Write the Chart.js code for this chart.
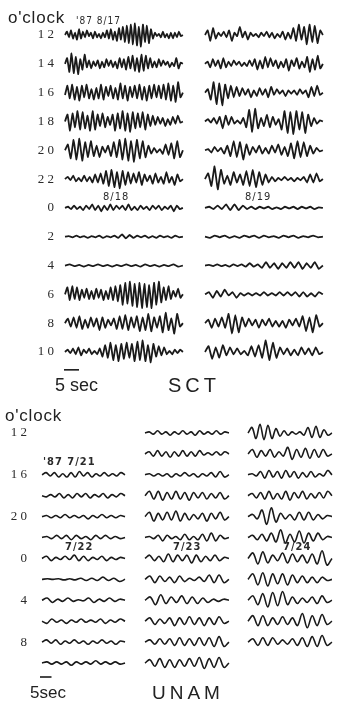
<!DOCTYPE html>
<html>
<head>
<meta charset="utf-8">
<script src="https://cdn.jsdelivr.net/npm/chart.js@4.4.0/dist/chart.umd.min.js"></script>
<style>
body { margin: 0; background: #fff; width: 340px; height: 706px; position: relative; overflow: hidden; font-family: "Liberation Sans", Arial, sans-serif; color: #222; }
canvas { position: absolute; left: 0; }
#sct { top: 0; }
#unam { top: 400px; }
.t { position: absolute; white-space: nowrap; line-height: 1; }
.big { font-size: 17px; letter-spacing: 0.8px; }
.date { font-family: "DejaVu Sans Condensed", "Liberation Sans Narrow", sans-serif; font-size: 11px; letter-spacing: 1px; color: #2a2a2a; }
.name { font-size: 19px; letter-spacing: 4px; }
</style>
</head>
<body>
<canvas id="sct" width="340" height="400"></canvas>
<canvas id="unam" width="340" height="306"></canvas>

<div class="t big" style="left:8px;top:9px">o'clock</div>
<div class="t date" style="left:76px;top:16px;font-size:10px">'87 8/17</div>
<div class="t date" style="left:103px;top:191px">8/18</div>
<div class="t date" style="left:245px;top:191px">8/19</div>
<div class="t" style="left:55px;top:376px;font-size:18px">5 sec</div>
<div class="t name" style="left:168px;top:375px;font-size:20px">SCT</div>

<div class="t big" style="left:5px;top:407px">o'clock</div>
<div class="t date" style="left:43px;top:456px;font-weight:bold">'87 7/21</div>
<div class="t date" style="left:65px;top:541px;font-weight:bold">7/22</div>
<div class="t date" style="left:173px;top:541px;font-weight:bold">7/23</div>
<div class="t date" style="left:283px;top:541px;font-weight:bold">7/24</div>
<div class="t" style="left:30px;top:684px;font-size:17px">5sec</div>
<div class="t name" style="left:152px;top:683px">UNAM</div>

<script>
// hour labels of the rows
const sctHours = ['1 2', '1 4', '1 6', '1 8', '2 0', '2 2', '0', '2', '4', '6', '8', '1 0'];
const unamHours = ['1 2', '', '1 6', '', '2 0', '', '0', '', '4', '', '8', ''];

// SCT, left column: 8/17 12h .. 8/18 10h (trace amplitude, up = +)
const sctDay1 = [
    [0,3,-2,4,-3,2,-4,5,-3,3,-2,4,-1,2,-3,3,-2,1,-3,2,-2,4,-3,5,-4,3,-5,6,-4,7,-6,8,-7,9,-8,10,-9,7,-10,9,-6,8,-7,5,-3,2,-1,1,-2,3,-2,1,-3,2,-3,2,-2,3,-1,0],
    [0,5,-7,9,-8,6,-9,4,-5,8,-3,3,-4,2,-2,3,-4,2,-3,4,-2,3,-3,2,-4,5,-3,4,-5,6,-4,7,-6,5,-7,8,-6,7,-4,5,-3,2,-3,4,-2,3,-1,2,-3,1,-2,5,-4,1,0],
    [-2,6,-5,7,-6,5,-7,6,-4,7,-5,3,-6,4,-5,7,-6,5,-3,6,-5,4,-6,8,-5,6,-7,5,-4,6,-5,7,-6,5,-7,6,-5,7,-4,6,-5,7,-6,8,-7,6,-8,9,-4,0],
    [0,6,-8,7,-5,9,-7,8,-6,5,-8,9,-7,6,-4,7,-5,4,-3,6,-8,7,-6,9,-8,7,-9,8,-6,7,-5,8,-7,6,-4,5,-3,4,-2,3,-4,2,-3,4,-2,5,-1,0],
    [0,5,-7,9,-8,10,-9,7,-6,8,-5,4,-6,3,-2,4,-5,7,-6,9,-8,10,-9,8,-10,9,-7,8,-6,4,-3,2,-2,1,-3,5,-4,6,-7,8,-6,0],
    [0,2,-1,3,-2,1,-2,3,-2,2,-3,4,-3,5,-4,7,-6,8,-7,6,-8,7,-5,6,-4,5,-3,6,-5,4,-2,3,-4,5,-3,2,-4,6,-3,2,-5,4,-2,0],
    [0,1,-1,2,-1,1,-2,2,-1,3,-2,2,-3,2,-2,3,-2,2,-1,2,-2,3,-2,1,-2,2,-1,1,-2,2,-1,2,-2,1,-1,2,-3,2,-1,0],
    [0,0.5,-0.5,1,-0.5,0.5,-1,0.5,-0.5,1,-1,0.5,-0.5,1,-1,2,-1.5,1.5,-1,1,-0.5,1,-1,0.5,-1,1,-0.5,0.5,-1,1,-0.5,0],
    [0,1,-0.5,0.5,-1,0.5,-0.5,1,-0.5,0.5,-1,0.5,-0.5,1,-0.5,0.5,-1,1,-0.5,0.5,-1,0.5,-0.5,1,-1,0],
    [0,6,-5,7,-4,6,-5,4,-3,5,-4,3,-4,5,-3,4,-5,3,-4,6,-5,7,-6,8,-9,10,-8,11,-10,9,-11,10,-12,9,-11,8,-12,10,-9,11,-7,6,-5,7,-4,3,-2,5,-3,0],
    [0,4,-3,5,-4,6,-5,3,-4,5,-3,4,-6,5,-4,3,-2,4,-5,6,-5,7,-6,5,-4,6,-7,5,-6,8,-7,5,-4,6,-8,9,-6,4,-9,8,-3,0],
    [0,2,-1,3,-2,4,-3,2,-1,3,-2,1,-2,3,-4,6,-5,8,-7,6,-8,7,-6,8,-5,7,-8,9,-7,10,-8,6,-9,7,-4,5,-3,4,-2,1,-2,2,-1,2,0]
];

// SCT, right column: 8/18 12h .. 8/19 10h
const sctDay2 = [
    [0,4,-5,6,-3,2,-1,3,-2,4,-5,2,-1,7,-2,3,-4,2,-1,1,-2,2,-1,3,-2,2,-3,1,-2,3,-4,2,-3,6,-5,9,-4,7,-8,9,-6,8,-7,4,0],
    [0,2,-3,4,-2,3,-4,5,-3,2,-2,3,-1,2,-2,1,-2,3,-2,4,-5,3,-4,6,-3,5,-2,3,-4,2,-3,4,-6,3,-2,5,-4,2,-3,6,-7,4,-5,7,-4,0],
    [0,3,-6,9,-10,8,-11,7,-5,6,-4,5,-3,4,-2,3,-4,2,-3,4,-2,3,-4,5,-2,3,-1,2,-3,2,-1,2,-2,3,-1,2,-4,5,-3,6,-2,0],
    [0,2,-1,3,-2,4,-6,5,-3,4,-2,1,-2,3,-5,10,-9,11,-6,3,-4,6,-5,4,-3,2,-7,9,-10,8,-11,9,-7,8,-10,6,-4,3,-2,1,0],
    [0,1,-2,3,-1,2,-3,4,-5,8,-6,7,-8,5,-4,3,-2,4,-3,2,-3,4,-2,5,-4,3,-5,6,-7,8,-6,7,-5,4,-3,2,-1,0],
    [0,5,-6,11,-9,8,-4,3,-5,6,-3,4,-5,7,-6,8,-7,6,-5,4,-3,2,-2,1,-1,2,-1,1,-2,1,-1,2,-3,4,-3,5,-2,0],
    [0,1,-1,2,-1,3,-2,3,-2,2,-1,1,-1,1,-0.5,1,-1,0.5,-1,1,-0.5,1,-1,1,-0.5,1,-1,0.5,0],
    [0,-1,1,-0.5,1,-1,0.5,-1,1,-0.5,1,-1,1,-0.5,0.5,-1,1,-0.5,1,-1,0.5,-0.5,1,-0.5,0],
    [0,0.5,-0.5,1,-0.5,0.5,-1,1,-0.5,1,-1,2,-1,1,-2,3,-2,2,-3,2,-2,3,-2,3,-3,2,-2,3,-3,0],
    [0,2,-3,3,-2,4,-1,2,-3,1,-1,1,-1,1,-1,2,-1,1,-1,2,-1,2,-1,2,-2,2,-2,1,-2,2,0],
    [0,3,-4,4,-3,5,-4,8,-9,7,-8,5,-3,4,-2,3,-4,3,-2,4,-3,2,-3,2,-4,3,-2,4,-3,6,-7,5,-8,7,-3,0],
    [0,5,-6,4,-5,6,-3,4,-2,3,-2,1,-3,5,-4,6,-5,10,-7,8,-5,4,-2,3,-3,2,-3,4,-2,3,-3,4,-2,0]
];

// UNAM, 7/21 16h .. 7/22 10h
const unamDay1 = [
    [0,2,-1,2,-2,1,-2,2,-2,3,-1,2,-2,1,-1,2,-1,1,-1,2,0],
    [0,-1,1,-1,2,-2,1,-2,2,-1,2,-2,1,-1,2,-2,1,-1,2,0],
    [0,1,-1,1,-1,2,-1,1,-1,1,-2,1,-1,2,-1,1,-1,1,0],
    [0,1,-1,2,-1,2,-2,2,-1,1,-2,2,-1,2,-1,1,-1,0],
    [0,2,-2,1,-1,2,-1,3,-2,2,-2,1,-1,2,-2,1,-1,1,0],
    [0,0.5,0,0.5,-0.5,0.5,-0.5,1,-1,1,-1,2,-1,1,-2,0],
    [0,2,-2,1,-1,2,-1,0.5,-0.5,2,-2,1,-1,2,-1,1,0],
    [0,-2,2,-1,1,-2,1,-1,2,-1,1,-1,2,-2,1,-1,2,0],
    [0,2,-1,2,-2,1,-1,2,-1,1,-2,1,-1,2,-1,1,-2,1,0],
    [0,1,-1,1,-1,1,-2,1,-1,1,-1,2,-1,1,-1,1,-1,0]
];

// UNAM, 7/22 12h .. 7/23 10h
const unamDay2 = [
    [0,1,-1,2,-1,1,-2,1,-1,2,-1,1,-2,2,-1,1,-1,2,-1,1,0],
    [0,2,-2,3,-2,2,-3,2,-2,3,-2,2,-2,3,-1,1,-1,2,-1,2,0],
    [0,1,-1,1,-1,1,-2,1,-1,2,-1,1,-2,1,-1,2,-2,3,-2,0],
    [0,4,-3,4,-4,3,-3,4,-3,3,-4,3,-2,3,-3,2,-2,3,-3,0],
    [0,4,-4,3,-3,4,-3,5,-4,3,-3,2,-2,3,-4,3,-2,4,-3,0],
    [0,1,-1,2,-3,2,-1,1,-2,3,-2,1,-2,3,-3,4,-3,2,-1,0],
    [0,3,-2,2,-3,4,-3,3,-2,3,-4,3,-3,2,-2,3,-2,1,0],
    [0,3,-3,3,-2,2,-3,3,-2,1,-1,2,-2,4,-3,4,-3,0],
    [0,3,-4,5,-3,3,-2,4,-3,3,-3,2,-2,1,-1,1,0],
    [0,3,-3,2,-2,3,-4,3,-3,4,-3,3,-4,3,-3,4,-2,0],
    [0,2,-2,3,-2,3,-3,4,-3,3,-3,4,-3,4,-4,5,-4,0],
    [0,3,-3,4,-4,3,-4,3,-3,4,-3,5,-5,4,-4,5,-4,0]
];

// UNAM, 7/23 12h .. 7/24 8h
const unamDay3 = [
    [0,5,-5,8,-6,7,-5,4,-3,2,-2,1,-1,1,-2,5,-4,6,-4,3,-2,0],
    [0,4,-3,3,-2,4,-3,2,-2,6,-5,4,-3,5,-4,4,-3,4,-2,0],
    [0,1,-1,3,-3,4,-2,3,-3,4,-2,3,-3,2,-2,3,-2,1,-1,4,0],
    [0,2,-2,3,-3,4,-3,2,-3,4,-4,3,-2,4,-3,2,-2,3,-2,4,0],
    [0,2,-2,6,-7,8,-5,3,-2,2,-3,4,-3,4,-3,2,-2,1,0],
    [0,2,-2,3,-3,4,-4,7,-5,3,-4,6,-5,4,-3,4,-2,1,0],
    [0,5,-5,6,-4,3,-2,5,-4,4,-3,3,-4,4,-5,7,-6,0],
    [0,5,-5,6,-6,5,-4,5,-5,4,-3,3,-3,2,-3,2,-1,0],
    [0,4,-4,6,-6,7,-5,8,-4,3,-3,2,-2,3,-3,4,-2,0],
    [0,5,-4,5,-4,3,-3,4,-3,3,-4,7,-6,5,-4,6,-3,0],
    [0,3,-3,4,-3,4,-2,2,-2,3,-3,4,-4,5,-4,6,-3,0]
];

// 5 second bar
const barSec = [0, 5];

const INK = '#1a1a1a';

function trace(vals, row, x0, len, perRow, width, tension) {
    return {
        data: vals.map((v, i) => ({ x: x0 + i * len / (vals.length - 1), y: row - v / perRow })),
        borderColor: INK,
        borderWidth: width,
        pointRadius: 0,
        tension: tension,
        fill: false
    };
}

function bar(row) {
    return {
        data: barSec.map(s => ({ x: s, y: row })),
        borderColor: INK,
        borderWidth: 1.6,
        pointRadius: 0
    };
}

function yAxis(hours, min, max, w, pad) {
    return {
        type: 'linear',
        reverse: true,
        min: min,
        max: max,
        afterBuildTicks: s => { s.ticks = hours.map((_, i) => ({ value: i })) },
        afterFit: s => { s.width = w; s.paddingTop = 0; s.paddingBottom = 0 },
        ticks: {
            autoSkip: false,
            padding: pad,
            color: '#2a2a2a',
            font: { family: 'Liberation Serif', size: 13 },
            callback: v => hours[v]
        },
        grid: { display: false },
        border: { display: false }
    };
}

function opts(xmax, y) {
    return {
        responsive: false,
        animation: false,
        layout: { padding: 0 },
        plugins: { legend: { display: false }, tooltip: { enabled: false } },
        scales: {
            x: { type: 'linear', display: false, min: 0, max: xmax },
            y: y
        }
    };
}

// SCT: 3 px per second, rows 28.8 px apart
let sctSets = [];
sctDay1.forEach((v, r) => sctSets.push(trace(v, r, 0.33, 39.3, 25, 1.8, 0.12)));
sctDay2.forEach((v, r) => sctSets.push(trace(v, r, 47, 39.3, 25, 1.8, 0.12)));
sctSets.push(bar(11.62));

new Chart(document.getElementById('sct'), {
    type: 'line',
    data: { datasets: sctSets },
    options: opts(92, yAxis(sctHours, -1.215, 12.667, 64, 2))
});

// UNAM: 2.3 px per second, rows 20.9 px apart
let unamSets = [];
unamDay1.forEach((v, r) => unamSets.push(trace(v, r + 2, 0.87, 36.1, 19, 1.6, 0.35)));
unamDay2.forEach((v, r) => unamSets.push(trace(v, r, 45.65, 36.5, 19, 1.6, 0.35)));
unamDay3.forEach((v, r) => unamSets.push(trace(v, r, 90.43, 36.5, 19, 1.6, 0.35)));
unamSets.push(bar(11.67));

new Chart(document.getElementById('unam'), {
    type: 'line',
    data: { datasets: unamSets },
    options: opts(130.43, yAxis(unamHours, -1.579, 13.057, 40, 5))
});
</script>
</body>
</html>
